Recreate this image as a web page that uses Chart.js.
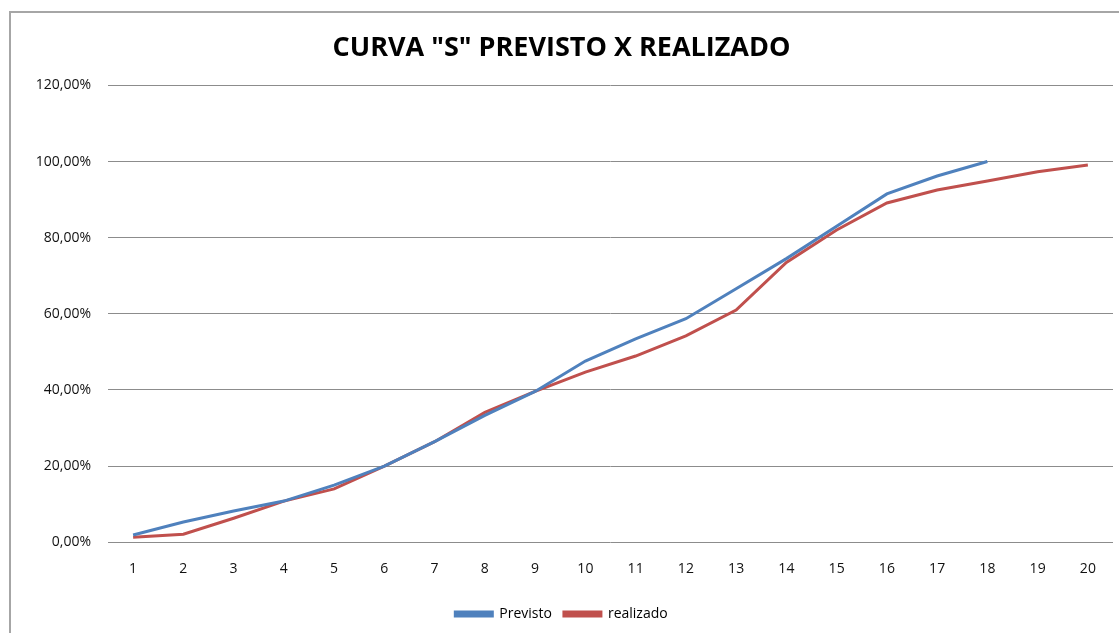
<!DOCTYPE html>
<html>
<head>
<meta charset="utf-8">
<script src="https://cdn.jsdelivr.net/npm/chart.js@4.4.1/dist/chart.umd.min.js"></script>
<style>
  html, body { margin: 0; padding: 0; background: #fff; overflow: hidden; }
  #frame { position: absolute; left: 9px; top: 11px; width: 1200px; height: 700px; border: 2px solid #a6a6a6; }
  #wrap { position: absolute; left: 0; top: 0; width: 1119px; height: 633px; }
</style>
</head>
<body>
<div id="frame"></div>
<div id="wrap"><canvas id="curvaChart"></canvas></div>
<script>
// Curva S - previsto x realizado (valores em %)
const periods = ['1','2','3','4','5','6','7','8','9','10','11','12','13','14','15','16','17','18','19','20'];
const previsto = [1.9, 5.3, 8.2, 10.8, 15.0, 20.0, 26.4, 33.3, 39.6, 47.6, 53.4, 58.7, 66.6, 74.5, 83.0, 91.5, 96.2, 100.0, null, null];
const realizado = [1.3, 2.1, 6.3, 10.8, 14.0, 20.0, 26.4, 34.1, 39.6, 44.7, 48.9, 54.2, 61.0, 73.5, 82.0, 89.1, 92.5, 94.9, 97.3, 99.1];
const yTicks = [0, 20, 40, 60, 80, 100, 120];

const FONT = "'Open Sans', sans-serif";

document.addEventListener('DOMContentLoaded', function() {
    const canvas = document.getElementById('curvaChart');

    new Chart(canvas, {
        type: 'line',
        data: {
            labels: periods,
            datasets: [
                {
                    label: 'Previsto',
                    data: previsto,
                    borderColor: '#4F81BD',
                    backgroundColor: '#4F81BD',
                    borderWidth: 3,
                    pointRadius: 0,
                    tension: 0
                },
                {
                    label: 'realizado',
                    data: realizado,
                    borderColor: '#C0504D',
                    backgroundColor: '#C0504D',
                    borderWidth: 3,
                    pointRadius: 0,
                    tension: 0
                }
            ]
        },
        options: {
            responsive: true,
            maintainAspectRatio: false,
            animation: false,
            layout: { padding: { left: 10, right: 6, top: 0, bottom: 2 } },
            plugins: {
                title: {
                    display: true,
                    text: 'CURVA "S" PREVISTO X REALIZADO',
                    color: '#000',
                    font: { size: 27, weight: 'bold', family: FONT },
                    padding: { top: 32, bottom: 21 }
                },
                legend: {
                    position: 'bottom',
                    labels: {
                        boxWidth: 37,
                        boxHeight: 4,
                        color: '#000',
                        font: { size: 14, family: FONT },
                        padding: 12
                    }
                },
                tooltip: { enabled: false }
            },
            scales: {
                y: {
                    min: 0,
                    max: 120,
                    afterBuildTicks: function(scale) {
                        scale.ticks = yTicks.map(v => ({ value: v }));
                    },
                    afterFit: function(scale) { scale.width = 98; },
                    border: { display: false },
                    grid: { color: '#8c8c8c', lineWidth: 1, drawTicks: false },
                    ticks: {
                        padding: 17,
                        color: '#111',
                        font: { size: 14, family: FONT },
                        callback: function(v) { return v.toFixed(2).replace('.', ',') + '%'; }
                    }
                },
                x: {
                    offset: true,
                    border: { display: false },
                    grid: { display: false, drawTicks: false, offset: true },
                    ticks: {
                        padding: 18,
                        color: '#111',
                        font: { size: 14, family: FONT }
                    }
                }
            }
        }
    });
});
</script>
</body>
</html>
